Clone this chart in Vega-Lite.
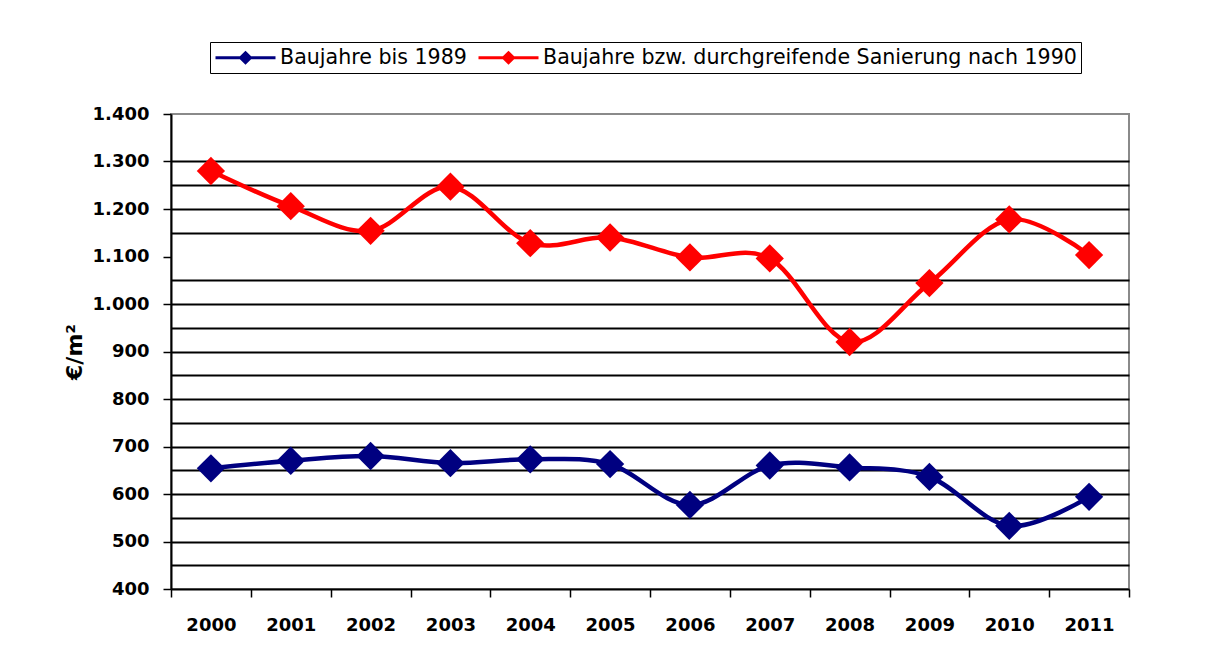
{
  "$schema": "https://vega.github.io/schema/vega-lite/v6.json",
  "width": 958,
  "height": 475,
  "autosize": {"type": "none"},
  "padding": {"left": 171, "top": 114, "right": 79, "bottom": 72},
  "background": "white",
  "config": {
    "view": {"stroke": "#8a8a8a", "strokeWidth": 2},
    "font": "DejaVu Sans"
  },
  "data": {
    "values": [
      {"Jahr": "2000", "Serie": "Baujahre bis 1989", "Wert": 654},
      {"Jahr": "2001", "Serie": "Baujahre bis 1989", "Wert": 670},
      {"Jahr": "2002", "Serie": "Baujahre bis 1989", "Wert": 680},
      {"Jahr": "2003", "Serie": "Baujahre bis 1989", "Wert": 665},
      {"Jahr": "2004", "Serie": "Baujahre bis 1989", "Wert": 673},
      {"Jahr": "2005", "Serie": "Baujahre bis 1989", "Wert": 663},
      {"Jahr": "2006", "Serie": "Baujahre bis 1989", "Wert": 577},
      {"Jahr": "2007", "Serie": "Baujahre bis 1989", "Wert": 660},
      {"Jahr": "2008", "Serie": "Baujahre bis 1989", "Wert": 656},
      {"Jahr": "2009", "Serie": "Baujahre bis 1989", "Wert": 636},
      {"Jahr": "2010", "Serie": "Baujahre bis 1989", "Wert": 533},
      {"Jahr": "2011", "Serie": "Baujahre bis 1989", "Wert": 594},
      {"Jahr": "2000", "Serie": "Baujahre bzw. durchgreifende Sanierung nach 1990", "Wert": 1280},
      {"Jahr": "2001", "Serie": "Baujahre bzw. durchgreifende Sanierung nach 1990", "Wert": 1206},
      {"Jahr": "2002", "Serie": "Baujahre bzw. durchgreifende Sanierung nach 1990", "Wert": 1154},
      {"Jahr": "2003", "Serie": "Baujahre bzw. durchgreifende Sanierung nach 1990", "Wert": 1247},
      {"Jahr": "2004", "Serie": "Baujahre bzw. durchgreifende Sanierung nach 1990", "Wert": 1128},
      {"Jahr": "2005", "Serie": "Baujahre bzw. durchgreifende Sanierung nach 1990", "Wert": 1140},
      {"Jahr": "2006", "Serie": "Baujahre bzw. durchgreifende Sanierung nach 1990", "Wert": 1098},
      {"Jahr": "2007", "Serie": "Baujahre bzw. durchgreifende Sanierung nach 1990", "Wert": 1096},
      {"Jahr": "2008", "Serie": "Baujahre bzw. durchgreifende Sanierung nach 1990", "Wert": 920},
      {"Jahr": "2009", "Serie": "Baujahre bzw. durchgreifende Sanierung nach 1990", "Wert": 1044},
      {"Jahr": "2010", "Serie": "Baujahre bzw. durchgreifende Sanierung nach 1990", "Wert": 1178},
      {"Jahr": "2011", "Serie": "Baujahre bzw. durchgreifende Sanierung nach 1990", "Wert": 1103}
    ]
  },
  "encoding": {
    "x": {
      "field": "Jahr",
      "type": "ordinal",
      "bandPosition": 0.5,
      "scale": {"type": "band", "paddingInner": 0, "paddingOuter": 0},
      "axis": {
        "title": null,
        "labelAngle": 0,
        "tickBand": "extent",
        "domainColor": "black",
        "domainWidth": 2,
        "tickColor": "black",
        "tickWidth": 1.5,
        "tickSize": 8,
        "labelPadding": 19,
        "labelFontSize": 18,
        "labelFontWeight": "bold",
        "labelColor": "black",
        "labelFont": "DejaVu Sans"
      }
    },
    "y": {
      "field": "Wert",
      "type": "quantitative",
      "scale": {"domain": [400, 1400], "nice": false, "zero": false}
    }
  },
  "layer": [
    {
      "mark": {"type": "point", "opacity": 0},
      "encoding": {
        "y": {
          "field": "Wert",
          "type": "quantitative",
          "axis": {
            "orient": "right",
            "grid": true,
            "gridColor": "black",
            "gridWidth": 2,
            "gridOpacity": 1,
            "values": [450, 500, 550, 600, 650, 700, 750, 800, 850, 900, 950, 1000, 1050, 1150, 1200, 1250, 1300],
            "labels": false,
            "ticks": false,
            "domain": false,
            "title": null
          }
        }
      }
    },
    {
      "mark": {
        "type": "line",
        "strokeWidth": 4.5,
        "interpolate": "cardinal",
        "point": {"shape": "diamond", "size": 800, "filled": true, "opacity": 1}
      },
      "encoding": {
        "y": {
          "field": "Wert",
          "type": "quantitative",
          "axis": {
            "orient": "left",
            "grid": false,
            "values": [400, 500, 600, 700, 800, 900, 1000, 1100, 1200, 1300, 1400],
            "labelExpr": "replace(format(datum.value, ','), ',', '.')",
            "domainColor": "black",
            "domainWidth": 2,
            "tickColor": "black",
            "tickWidth": 1.5,
            "tickSize": 8,
            "labelPadding": 14,
            "labelFontSize": 18,
            "labelFontWeight": "bold",
            "labelColor": "black",
            "labelFont": "DejaVu Sans",
            "title": "€/m²",
            "titleFontSize": 22,
            "titleFontWeight": "bold",
            "titleFont": "DejaVu Sans",
            "titleColor": "black",
            "titlePadding": 6
          }
        },
        "color": {
          "field": "Serie",
          "type": "nominal",
          "scale": {
            "domain": ["Baujahre bis 1989", "Baujahre bzw. durchgreifende Sanierung nach 1990"],
            "range": ["#000080", "#ff0000"]
          },
          "legend": {
            "title": null,
            "orient": "none",
            "direction": "horizontal",
            "legendX": 39,
            "legendY": -72,
            "strokeColor": "black",
            "fillColor": "white",
            "padding": 4,
            "symbolType": "M-1,0L5,0M2,-0.5L2.5,0L2,0.5L1.5,0Z",
            "symbolSize": 400,
            "symbolStrokeWidth": 3,
            "symbolOpacity": 1,
            "labelFontSize": 20.6,
            "labelFont": "DejaVu Sans",
            "labelColor": "black",
            "labelOffset": 43,
            "columnPadding": 5,
            "labelLimit": 800,
            "encode": {
              "symbols": {"update": {"fill": {"scale": "color", "field": "value"}, "fillOpacity": {"value": 1}}}
            }
          }
        }
      }
    }
  ],
  "resolve": {"axis": {"y": "independent"}}
}
